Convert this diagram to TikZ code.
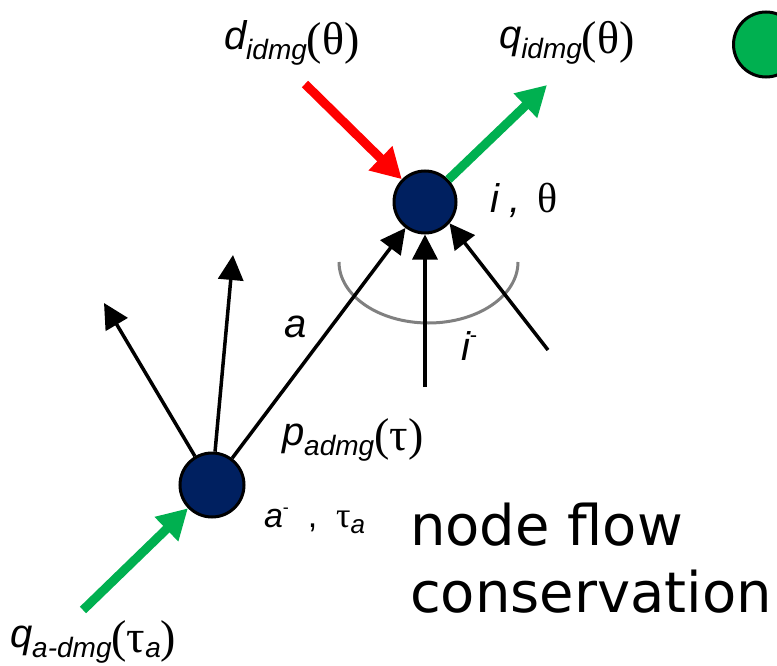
\documentclass[tikz,border=0pt]{standalone}
\usepackage{fontspec}
\setmainfont{Liberation Sans}
\newfontfamily\gkf{Liberation Serif}
\newfontfamily\bigf{DejaVu Sans}
\usetikzlibrary{arrows.meta}
\definecolor{nodeblue}{HTML}{002060}
\definecolor{flowgreen}{HTML}{00B050}
\definecolor{flowred}{HTML}{FF0000}
\definecolor{arcgray}{HTML}{808080}
\newcommand\mainit[1]{{\fontsize{40}{40}\selectfont\itshape #1}}
\newcommand\subit[1]{\raisebox{-10pt}{\fontsize{28}{28}\selectfont\itshape #1}}
\newcommand\grk[1]{\raisebox{-5pt}{\fontsize{46}{46}\gkf #1}}
\begin{document}
\begin{tikzpicture}[x=1pt,y=-1pt,
  netnode/.style={circle,fill=nodeblue,draw=black,line width=3pt,minimum size=62pt,inner sep=0pt},
  blackarrow/.style={line width=3.5pt,-{Triangle[length=25pt,width=25pt]}},
  thickarrow/.style={line width=9pt,-{Triangle[length=30pt,width=32pt]}},
  lbl/.style={anchor=base west,inner sep=0pt,outer sep=0pt}]
\useasboundingbox (0,0) rectangle (777,666);
% nodes
\node[netnode] (i) at (425,202) {};
\node[netnode,minimum size=64pt] (an) at (212,485) {};
\node[circle,fill=flowgreen,draw=black,line width=3pt,minimum size=65pt,inner sep=0pt] (legend) at (766,44.5) {};
% free ends
\coordinate (rd) at (305,84);
\coordinate (gt) at (547,85);
\coordinate (gb) at (83,610);
\coordinate (v0) at (425,387);
\coordinate (r0) at (548,350);
\coordinate (t1) at (104,303);
\coordinate (t2) at (233,255);
% arc
\draw[arcgray,line width=3pt] (339,262) arc[start angle=180,end angle=360,x radius=89.5,y radius=-61];
% arrows
\draw[thickarrow,flowred] (rd) -- (i);
\draw[thickarrow,flowgreen] (i) -- (gt);
\draw[thickarrow,flowgreen] (gb) -- (an);
\draw[blackarrow] (an) -- (i);
\draw[blackarrow] (v0) -- (i);
\draw[blackarrow] (r0) -- (i.-41);
\draw[blackarrow] (an) -- (t1);
\draw[blackarrow] (an) -- (t2);
% labels
\node[lbl] (dl) at (224,50) {\mainit{d}\subit{idmg}\grk{(θ)}};
\node[lbl] (ql) at (499,49) {\mainit{q}\subit{idmg}\grk{(θ)}};
\node[lbl] (il) at (490,212) {\mainit{i ,}\hspace{16pt}{\fontsize{42}{42}\gkf θ}};
\node[lbl] (al) at (284,337) {\mainit{a}};
\node[lbl] (iml) at (461,360) {\mainit{i}\raisebox{18pt}{\fontsize{22}{22}\selectfont -}};
\node[lbl] (pl) at (282,445) {\mainit{p}\subit{admg}\grk{(τ)}};
\node[lbl] (aml) at (264,527) {{\fontsize{34}{34}\selectfont\itshape a}\raisebox{14pt}{\fontsize{18}{18}\selectfont -}{\fontsize{34}{34}\selectfont\ \ ,\ \ }{\fontsize{36}{36}\gkf τ}\raisebox{-6pt}{\fontsize{26}{26}\selectfont\itshape a}};
\node[lbl] (qal) at (10,647) {\mainit{q}\subit{a-dmg}\grk{(τ}\subit{a}\grk{)}};
\node[lbl,align=left,font=\bigf\fontsize{56}{67}\selectfont] (title) at (410,612) {node flow\\conservation};
\end{tikzpicture}
\end{document}
